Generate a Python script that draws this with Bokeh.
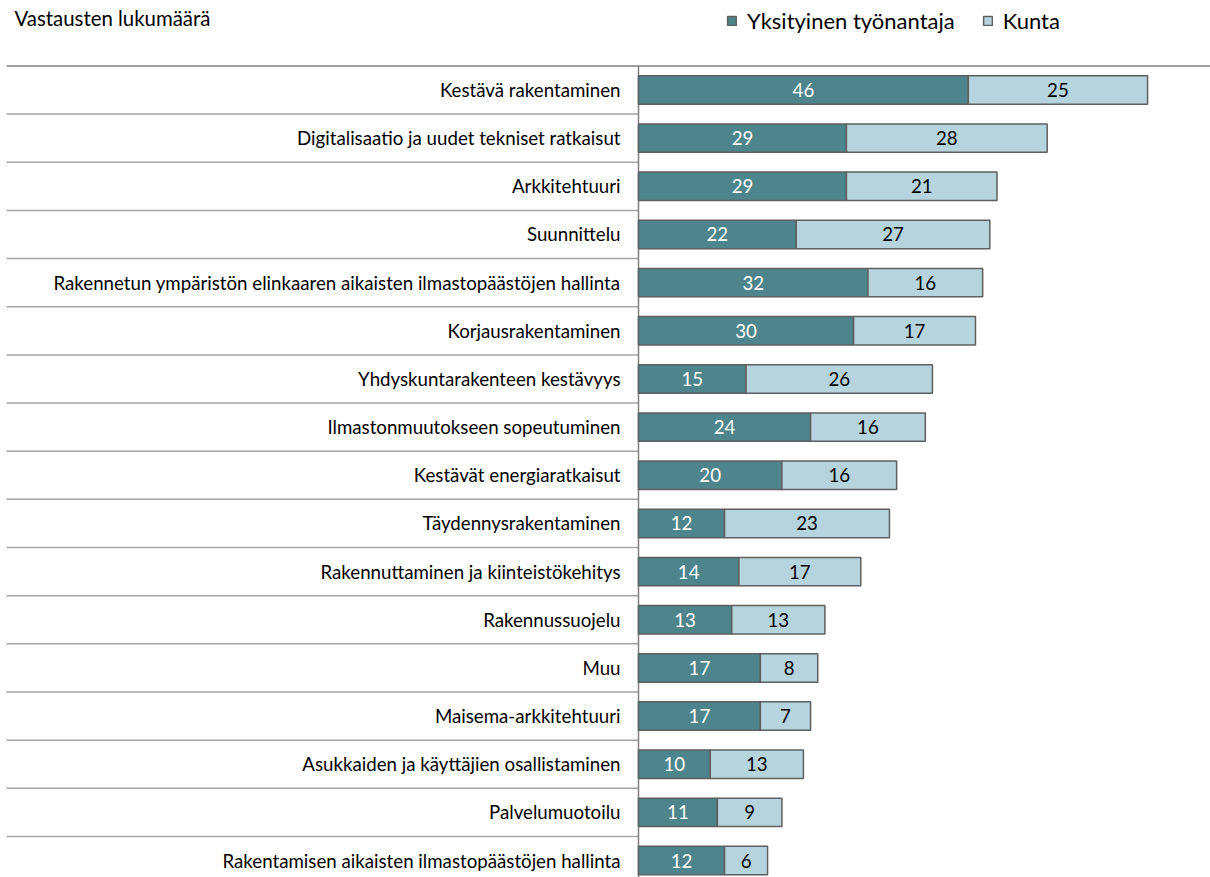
from bokeh.plotting import figure
from bokeh.models import ColumnDataSource, Range1d, Legend, LegendItem, Label
from bokeh.core.properties import value
from bokeh.embed import file_html
from bokeh.resources import INLINE

categories = [
    "Kestävä rakentaminen",
    "Digitalisaatio ja uudet tekniset ratkaisut",
    "Arkkitehtuuri",
    "Suunnittelu",
    "Rakennetun ympäristön elinkaaren aikaisten ilmastopäästöjen hallinta",
    "Korjausrakentaminen",
    "Yhdyskuntarakenteen kestävyys",
    "Ilmastonmuutokseen sopeutuminen",
    "Kestävät energiaratkaisut",
    "Täydennysrakentaminen",
    "Rakennuttaminen ja kiinteistökehitys",
    "Rakennussuojelu",
    "Muu",
    "Maisema-arkkitehtuuri",
    "Asukkaiden ja käyttäjien osallistaminen",
    "Palvelumuotoilu",
    "Rakentamisen aikaisten ilmastopäästöjen hallinta",
]
yksityinen = [46, 29, 29, 22, 32, 30, 15, 24, 20, 12, 14, 13, 17, 17, 10, 11, 12]
kunta = [25, 28, 21, 27, 16, 17, 26, 16, 16, 23, 17, 13, 8, 7, 13, 9, 6]
series_names = ["Yksityinen työnantaja", "Kunta"]
title_text = "Vastausten lukumäärä"

DARK = "#4E848C"
LIGHT = "#B6D4DE"
EDGE = "#5f5f5f"
FONT = "Lato"

W, H = 1210, 877
px_per_unit = 7.17
x0_px = 638.0
row_px = 48.16
row0_px = 89.5

n = len(categories)
ys = list(range(n))
totals = [a + b for a, b in zip(yksityinen, kunta)]
src = ColumnDataSource(dict(
    y=ys, cat=categories, a=yksityinen, b=kunta, tot=totals,
    a_mid=[v / 2 for v in yksityinen],
    b_mid=[a + b / 2 for a, b in zip(yksityinen, kunta)],
    a_txt=[str(v) for v in yksityinen],
    b_txt=[str(v) for v in kunta],
))

xr = Range1d(start=-x0_px / px_per_unit, end=(W - x0_px) / px_per_unit)
yr = Range1d(start=(H - row0_px) / row_px, end=-row0_px / row_px)

p = figure(width=W, height=H, x_range=xr, y_range=yr, output_backend="svg",
           toolbar_location=None, min_border=0, min_border_left=0,
           min_border_right=0, min_border_top=0, min_border_bottom=0)
p.axis.visible = False
p.grid.visible = False
p.outline_line_color = None

# separators between categories (left side)
sep_y = [i + 0.5 for i in range(n)]
p.segment(x0=[-(x0_px - 6) / px_per_unit] * n, y0=sep_y, x1=[0] * n, y1=sep_y,
          line_color="#a6a6a6", line_width=1.5)
# top line
p.segment(x0=[-(x0_px - 6) / px_per_unit], y0=[-0.5], x1=[xr.end], y1=[-0.5],
          line_color="#808080", line_width=1.5)
# axis line
p.segment(x0=[0], y0=[-0.5], x1=[0], y1=[n], line_color="#808080", line_width=1.5)

r1 = p.hbar(y="y", left=0, right="a", height=0.59, source=src,
            fill_color=DARK, line_color=EDGE, line_width=1.5)
r2 = p.hbar(y="y", left="a", right="tot", height=0.59, source=src,
            fill_color=LIGHT, line_color=EDGE, line_width=1.5)

p.text(x=0, y="y", text="cat", source=src, x_offset=-18,
       text_align="right", text_baseline="middle",
       text_font=value(FONT), text_font_size="18.7px", text_color="#000000")
p.text(x="a_mid", y="y", text="a_txt", source=src,
       text_align="center", text_baseline="middle",
       text_font=value(FONT), text_font_size="18.7px", text_color="#ffffff")
p.text(x="b_mid", y="y", text="b_txt", source=src,
       text_align="center", text_baseline="middle",
       text_font=value(FONT), text_font_size="18.7px", text_color="#000000")

p.add_layout(Label(x=xr.start, y=(17.5 - row0_px) / row_px, x_offset=14,
                   text=title_text, text_font=FONT, text_font_size="20.4px",
                   text_color="#000000", text_baseline="middle"))

legend = Legend(items=[LegendItem(label=series_names[0], renderers=[r1]),
                       LegendItem(label=series_names[1], renderers=[r2])],
                orientation="horizontal", location=(726, 843),
                glyph_width=11, glyph_height=11, label_standoff=10, spacing=27,
                padding=0, margin=0, border_line_alpha=0, background_fill_alpha=0,
                label_text_font=FONT, label_text_font_size="22px",
                label_text_color="#000000")
p.add_layout(legend)

open("out.html", "w").write(file_html(p, INLINE))
